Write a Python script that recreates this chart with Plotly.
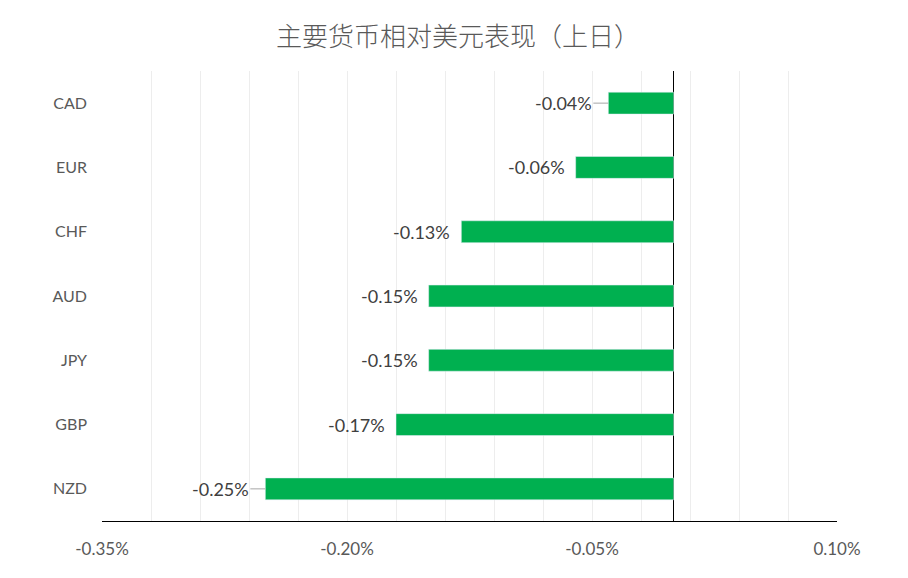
import plotly.graph_objects as go

currencies = ['CAD', 'EUR', 'CHF', 'AUD', 'JPY', 'GBP', 'NZD']
changes = [-0.04, -0.06, -0.13, -0.15, -0.15, -0.17, -0.25]
leader = [True, False, False, False, False, False, True]  # labels drawn with a short leader line

x_ticks = [-0.35, -0.20, -0.05, 0.10]
x_tick_labels = ['-0.35%', '-0.20%', '-0.05%', '0.10%']

fig = go.Figure()
fig.add_trace(go.Bar(
    x=changes, y=currencies, orientation='h',
    marker_color='#00B050', width=0.34,
    hoverinfo='skip',
))

# data labels
for cur, val, has_line in zip(currencies, changes, leader):
    txt = f'{val:.2f}%'
    if has_line:
        fig.add_annotation(x=val, y=cur, text=txt, showarrow=True, arrowhead=0,
                           arrowwidth=1, arrowcolor='#A6A6A6', ax=-45, ay=0,
                           standoff=0, xanchor='center',
                           font=dict(family='Lato', size=18, color='#404040'))
    else:
        fig.add_annotation(x=val, y=cur, text=txt, showarrow=False,
                           xanchor='right', xshift=-9,
                           font=dict(family='Lato', size=18, color='#404040'))

fig.update_layout(
    width=900, height=570,
    margin=dict(l=94, r=71, t=63, b=57),
    plot_bgcolor='white', paper_bgcolor='white',
    font=dict(family='Lato, Noto Sans CJK SC', color='#595959'),
    title=dict(text='主要货币相对美元表现（上日）', x=0.5, xanchor='center',
               y=0.95, yanchor='middle',
               font=dict(family='Noto Sans CJK SC', size=26, color='#595959', weight=300)),
    showlegend=False,
)
fig.update_xaxes(
    range=[-0.35, 0.10],
    tickvals=x_ticks, ticktext=x_tick_labels,
    tickfont=dict(size=17, color='#595959'),
    showgrid=True, gridcolor='#EDEDED', gridwidth=1,
    minor=dict(tick0=-0.35, dtick=0.03, showgrid=True, gridcolor='#EDEDED'),
    zeroline=True, zerolinecolor='black', zerolinewidth=1,
    showline=True, linecolor='black', linewidth=1,
    ticks='', ticklabelstandoff=13,
)
fig.update_yaxes(
    categoryorder='array', categoryarray=currencies,
    range=[6.5, -0.5],
    tickfont=dict(size=16, color='#595959'),
    showgrid=False, ticks='', ticklabelstandoff=14,
)

fig.write_html('out.html')
